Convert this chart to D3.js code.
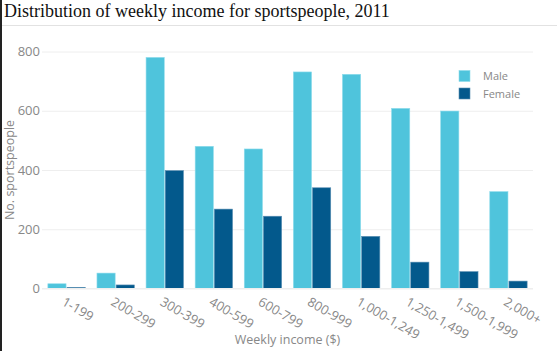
<!DOCTYPE html>
<html><head><meta charset="utf-8">
<script src="https://cdn.jsdelivr.net/npm/d3@7"></script>
<style>
html,body{margin:0;padding:0;background:#fff;}
svg{display:block;}
</style></head>
<body>
<svg id="chart" width="557" height="351"></svg>
<script>
const categories = ["1-199","200-299","300-399","400-599","600-799","800-999","1,000-1,249","1,250-1,499","1,500-1,999","2,000+"];
const maleValues = [16, 52, 780, 480, 471, 731, 723, 608, 599, 327];
const femaleValues = [4, 12, 398, 268, 244, 340, 176, 89, 57, 25];
const seriesNames = ["Male", "Female"];
const seriesColors = ["#4fc4dc", "#03598c"];
const yTicks = [0, 200, 400, 600, 800];
const titleText = "Distribution of weekly income for sportspeople, 2011";
const xTitle = "Weekly income ($)";
const yTitle = "No. sportspeople";

const W = 557, H = 351;
const svg = d3.select("#chart");

// left border and title
svg.append("rect").attr("x",0).attr("y",0).attr("width",2).attr("height",H).attr("fill","#222");
svg.append("text").attr("x",4).attr("y",17).attr("font-family","'Liberation Serif', 'Times New Roman', serif")
  .attr("font-size",18).attr("fill","#111").text(titleText);
svg.append("line").attr("x1",2).attr("x2",W).attr("y1",25.5).attr("y2",25.5).attr("stroke","#e2e2e2").attr("stroke-width",1);

const x = d3.scaleBand().domain(categories).range([42, 533]).paddingInner(0.2).paddingOuter(0.1);
const x0 = d3.scaleBand().domain(categories).range([42, 533]).padding(0);
const y = d3.scaleLinear().domain([0, 800]).range([288.5, 51.5]);
const xs = d3.scaleBand().domain(seriesNames).range([0, x.bandwidth()]).padding(0.05);

// gridlines
const yAxis = d3.axisLeft(y).tickValues(yTicks).tickSize(-(533-42)).tickPadding(4).tickFormat(d3.format("d"));
const gy = svg.append("g").attr("transform","translate(42,0)").call(yAxis);
gy.select(".domain").remove();
gy.selectAll(".tick line").attr("stroke","#eeeeee").attr("stroke-width",1);
gy.selectAll(".tick text").attr("font-family","'Open Sans', sans-serif").attr("font-size",13).attr("fill","#888").attr("x",-2);

const data = categories.map((c,i)=>({cat:c, vals:[maleValues[i], femaleValues[i]]}));
const groups = svg.append("g").selectAll("g").data(data).join("g")
  .attr("transform", d=>`translate(${x(d.cat)},0)`);
groups.selectAll("rect").data(d=>d.vals.map((v,j)=>({v, s:seriesNames[j], j})))
  .join("rect")
  .attr("x", d=>xs(d.s)).attr("width", xs.bandwidth())
  .attr("y", d=>y(d.v)).attr("height", d=>y(0)-y(d.v))
  .attr("fill", d=>seriesColors[d.j])
  .attr("stroke", d=> d.j===0 ? "#8fdcec" : "#5a8fb3").attr("stroke-width",0.6);

// x axis line
svg.append("line").attr("x1",42).attr("x2",533).attr("y1",288.5).attr("y2",288.5).attr("stroke","#eeeeee");

// x tick labels (rotated)
const xAxis = d3.axisBottom(x0).tickSize(0).tickPadding(0);
const gx = svg.append("g").attr("transform","translate(0,288.5)").call(xAxis);
gx.select(".domain").remove();
gx.selectAll(".tick text")
  .attr("font-family","'Open Sans', sans-serif").attr("font-size",13).attr("fill","#888")
  .attr("text-anchor","start").attr("y",0).attr("x",0).attr("dy","0.71em")
  .attr("transform","translate(-1,8) rotate(30)");

// axis titles
svg.append("text").attr("x",287.5).attr("y",344).attr("text-anchor","middle")
  .attr("font-family","'Open Sans', sans-serif").attr("font-size",12.5).attr("fill","#888").text(xTitle);
svg.append("text").attr("transform","translate(14,170) rotate(-90)").attr("text-anchor","middle")
  .attr("font-family","'Open Sans', sans-serif").attr("font-size",12.5).attr("fill","#888").text(yTitle);

// legend
const leg = svg.append("g").attr("transform","translate(459,70.5)");
seriesNames.forEach((s,i)=>{
  leg.append("rect").attr("x",0).attr("y",i*17.5).attr("width",11).attr("height",11)
    .attr("fill",seriesColors[i]).attr("stroke", i===0 ? "#8fdcec" : "#5a8fb3").attr("stroke-width",0.6);
  leg.append("text").attr("x",24).attr("y",i*17.5+9.5).attr("font-family","'Open Sans', sans-serif")
    .attr("font-size",11).attr("fill","#888").text(s);
});
</script>
</body></html>
